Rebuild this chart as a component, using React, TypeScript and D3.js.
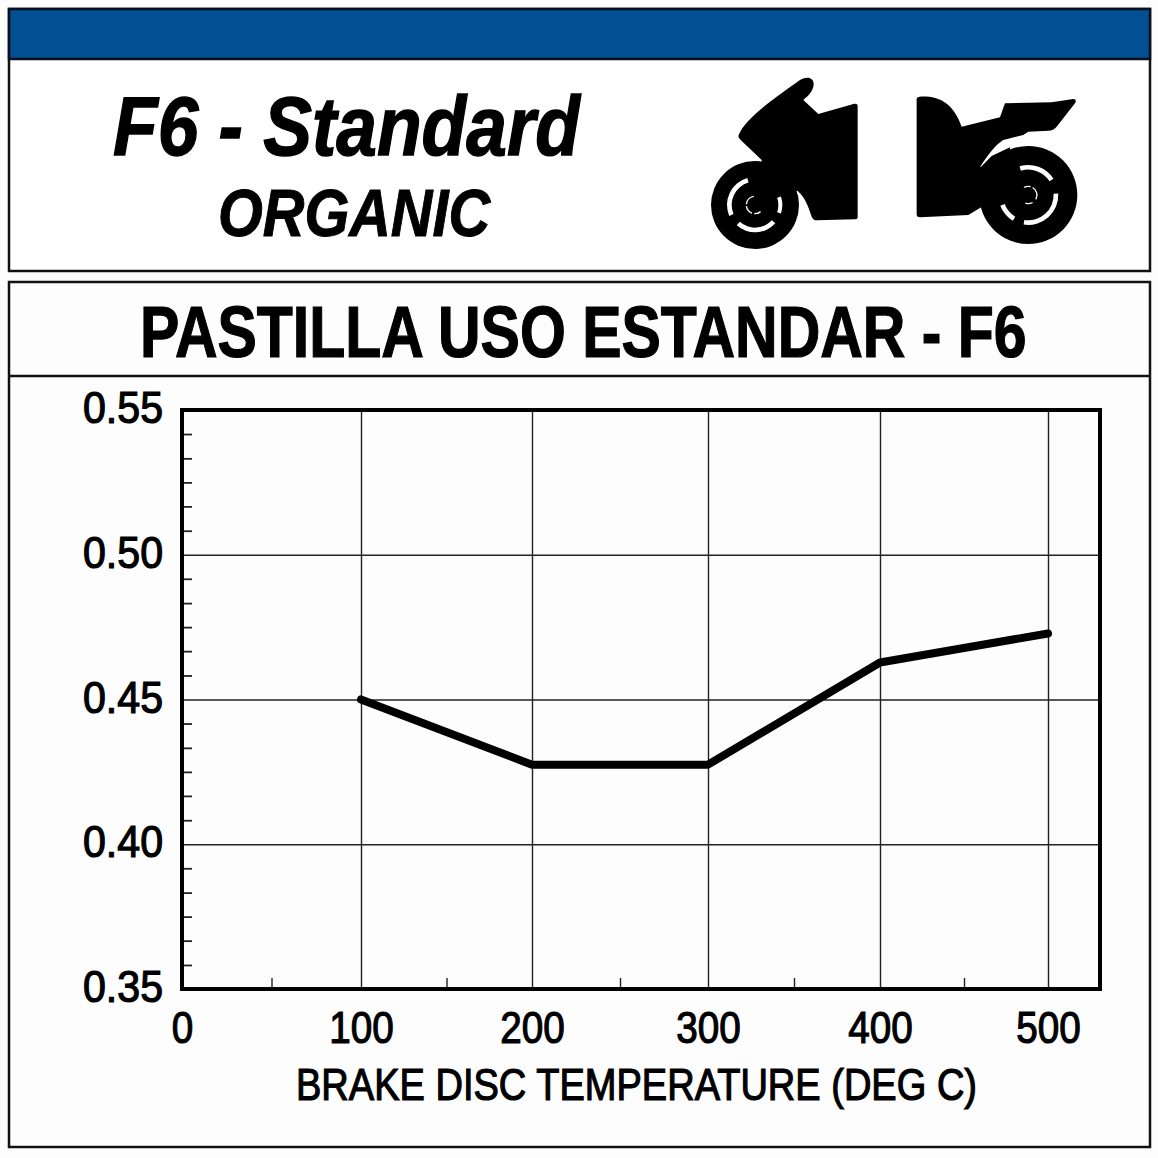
import { useEffect, useRef } from "react";
import * as d3 from "d3";

// Friction curve
const temperatures = [100, 200, 300, 400, 500];
const friction = [0.45, 0.4275, 0.4275, 0.4628, 0.4728];

const xTicks = [0, 100, 200, 300, 400, 500];
const xMinorTicks = [50, 150, 250, 350, 450];
const xGridTicks = [100, 200, 300, 400, 500];
const yTicks = [0.35, 0.4, 0.45, 0.5, 0.55];
const yGridTicks = [0.4, 0.45, 0.5];
const yMinorTicks = [
  0.3583, 0.3667, 0.375, 0.3833, 0.3917, 0.4083, 0.4167, 0.425, 0.4333, 0.4417,
  0.4583, 0.4667, 0.475, 0.4833, 0.4917, 0.5083, 0.5167, 0.525, 0.5333, 0.5417,
];

const TITLE = "F6 - Standard";
const SUBTITLE = "ORGANIC";
const HEADING = "PASTILLA USO ESTANDAR - F6";
const X_LABEL = "BRAKE DISC TEMPERATURE (DEG C)";

const SIZE = 1158;
const BLUE = "#024f94";
const FONT = "'Liberation Sans', Arial, sans-serif";

const PLOT = { left: 182, right: 1100, top: 410, bottom: 989 };

// The printed grid is not quite even, so the x scale is piecewise
const x = d3
  .scaleLinear()
  .domain([0, 100, 200, 300, 400, 500])
  .range([182, 361, 532, 708, 880, 1048]);
const y = d3.scaleLinear().domain([0.35, 0.55]).range([PLOT.bottom, PLOT.top]);

/* Icon outlines, in coordinates of a 3x crop starting at (690,60) */
const FRONT_BODY =
  "M146 225 C165 180 230 130 330 60 C355 45 376 55 370 80 C365 100 350 110 340 120 L385 162 L493 131 Q503 130 503 138 L503 470 Q503 478 495 478 L380 481 Q370 481 365 470 C355 440 345 410 322 392 L215 420 L215 300 L152 240 Q143 232 146 225 Z";
const REAR_BODY =
  "M680 118 Q680 110 690 110 C750 108 790 130 815 200 L930 172 L945 130 L1085 127 L1150 117 Q1162 118 1155 130 L1100 200 Q1090 212 1075 212 L1015 215 L1000 225 L940 240 C915 255 890 290 871 320 L960 420 L880 438 L835 465 L690 472 Q680 472 680 462 Z M872 322 L905 288 L960 262 L960 420 L880 440 Z";

const deg = (d: number) => (d * Math.PI) / 180;
const arc = d3.arc();
const ring = (inner: number, outer: number, a0: number, a1: number) =>
  arc({ innerRadius: inner, outerRadius: outer, startAngle: deg(a0), endAngle: deg(a1) }) ?? "";

const FRONT_SLOTS = [
  ring(70, 84, -113, -16),
  ring(68, 82, 132, 222),
  ring(70, 82, 72, 108),
  ring(24, 28, 200, 262),
  ring(24, 28, 275, 352),
  ring(24, 28, 140, 185),
];
const REAR_SLOTS = [
  ring(76, 90, -17, 57),
  ring(76, 90, 87, 189),
  ring(76, 90, 211, 249),
  ring(24, 28, 30, 120),
  ring(24, 28, 150, 200),
  ring(24, 28, -30, 15),
];

export default function App() {
  const axesRef = useRef<SVGGElement>(null);

  useEffect(() => {
    if (!axesRef.current) return;
    const g = d3.select(axesRef.current);
    g.selectAll("*").remove();

    // Grid
    g.append("g")
      .attr("transform", `translate(0,${PLOT.bottom})`)
      .call(d3.axisBottom(x).tickValues(xGridTicks).tickSize(-(PLOT.bottom - PLOT.top)).tickFormat(() => ""))
      .call((s) => s.select(".domain").remove())
      .selectAll("line")
      .attr("stroke", "#222")
      .attr("stroke-width", 1.4);
    g.append("g")
      .attr("transform", `translate(${PLOT.left},0)`)
      .call(d3.axisLeft(y).tickValues(yGridTicks).tickSize(-(PLOT.right - PLOT.left)).tickFormat(() => ""))
      .call((s) => s.select(".domain").remove())
      .selectAll("line")
      .attr("stroke", "#222")
      .attr("stroke-width", 1.4);

    // Minor ticks point into the plot
    g.append("g")
      .attr("transform", `translate(0,${PLOT.bottom})`)
      .call(d3.axisBottom(x).tickValues(xMinorTicks).tickSize(-11).tickFormat(() => ""))
      .call((s) => s.select(".domain").remove())
      .selectAll("line")
      .attr("stroke", "#222")
      .attr("stroke-width", 1.4);
    g.append("g")
      .attr("transform", `translate(${PLOT.left},0)`)
      .call(d3.axisLeft(y).tickValues(yMinorTicks).tickSize(-10).tickFormat(() => ""))
      .call((s) => s.select(".domain").remove())
      .selectAll("line")
      .attr("stroke", "#222")
      .attr("stroke-width", 1.8);

    // Tick labels
    const xAxis = g
      .append("g")
      .attr("transform", `translate(0,${PLOT.bottom})`)
      .call(d3.axisBottom(x).tickValues(xTicks).tickSize(0).tickPadding(0).tickFormat((d) => String(d)));
    xAxis.select(".domain").remove();
    xAxis
      .selectAll<SVGTextElement, number>("text")
      .attr("y", 54)
      .attr("dy", 0)
      .attr("font-family", FONT)
      .attr("font-size", 45)
      .attr("textLength", (d) => String(d).length * 21.5)
      .attr("lengthAdjust", "spacingAndGlyphs")
      .attr("fill", "#000")
      .attr("stroke", "#000")
      .attr("stroke-width", 1.2);

    const yAxis = g
      .append("g")
      .attr("transform", `translate(${PLOT.left},0)`)
      .call(d3.axisLeft(y).tickValues(yTicks).tickSize(0).tickPadding(19).tickFormat(d3.format(".2f")));
    yAxis.select(".domain").remove();
    yAxis
      .selectAll("text")
      .attr("dy", 12.5)
      .attr("font-family", FONT)
      .attr("font-size", 44)
      .attr("textLength", 80)
      .attr("lengthAdjust", "spacingAndGlyphs")
      .attr("fill", "#000")
      .attr("stroke", "#000")
      .attr("stroke-width", 1.2);
  }, []);

  const line = d3
    .line<number>()
    .x((_, i) => x(temperatures[i]))
    .y((d) => y(d));

  return (
    <svg
      width={SIZE}
      height={SIZE}
      viewBox={`0 0 ${SIZE} ${SIZE}`}
      style={{ position: "absolute", left: 0, top: 0, display: "block", background: "#fdfdfd" }}
    >
      {/* Header panel */}
      <rect x={9} y={9} width={1141} height={262} fill="#fff" stroke="#111" strokeWidth={2.5} />
      <rect x={9} y={9} width={1141} height={50} fill={BLUE} stroke="#0a0f1e" strokeWidth={2.5} />
      <text
        x={113}
        y={155}
        textLength={467}
        lengthAdjust="spacingAndGlyphs"
        fontFamily={FONT}
        fontWeight="bold"
        fontStyle="italic"
        fontSize={84}
        stroke="#000"
        strokeWidth={1.4}
      >
        {TITLE}
      </text>
      <text
        x={218}
        y={236}
        textLength={272}
        lengthAdjust="spacingAndGlyphs"
        fontFamily={FONT}
        fontWeight="bold"
        fontStyle="italic"
        fontSize={66}
        stroke="#000"
        strokeWidth={1}
      >
        {SUBTITLE}
      </text>

      {/* Bike icons */}
      <g transform="translate(690,60) scale(0.3333)">
        <path d={FRONT_BODY} fill="#000" />
        <circle cx={195} cy={435} r={132} fill="#000" />
        <g transform="translate(195,435)" fill="#fff">
          {FRONT_SLOTS.map((d, i) => (
            <path key={i} d={d} />
          ))}
        </g>
        <path d={REAR_BODY} fill="#000" />
        <circle cx={1015} cy={405} r={147} fill="#000" />
        <g transform="translate(1015,405)" fill="#fff">
          {REAR_SLOTS.map((d, i) => (
            <path key={i} d={d} />
          ))}
        </g>
      </g>

      {/* Chart panel */}
      <rect x={9} y={282} width={1141} height={865} fill="#fdfdfd" stroke="#111" strokeWidth={2.5} />
      <line x1={9} x2={1150} y1={376} y2={376} stroke="#111" strokeWidth={2.5} />
      <text
        transform="translate(140,357) scale(0.819,1)"
        fontFamily={FONT}
        fontWeight="bold"
        fontSize={72}
        stroke="#000"
        strokeWidth={1.2}
      >
        {HEADING}
      </text>

      <g ref={axesRef} />
      <rect
        x={PLOT.left}
        y={PLOT.top}
        width={PLOT.right - PLOT.left}
        height={PLOT.bottom - PLOT.top}
        fill="none"
        stroke="#000"
        strokeWidth={4}
      />
      <path d={line(friction) ?? ""} fill="none" stroke="#000" strokeWidth={8} strokeLinejoin="round" strokeLinecap="round" />

      <text
        x={296}
        y={1100}
        textLength={681}
        lengthAdjust="spacingAndGlyphs"
        fontFamily={FONT}
        fontSize={45}
        stroke="#000"
        strokeWidth={1.2}
      >
        {X_LABEL}
      </text>
    </svg>
  );
}
